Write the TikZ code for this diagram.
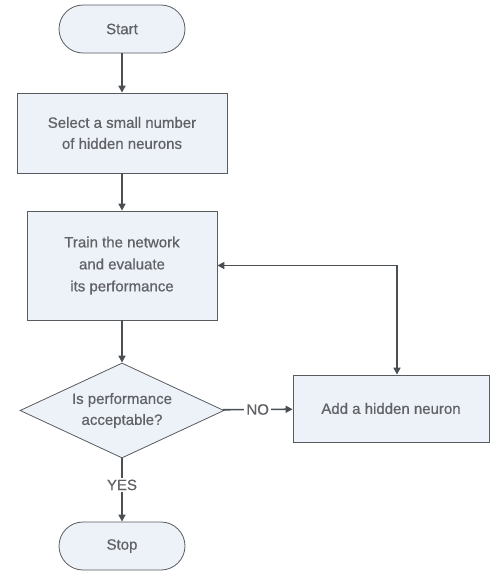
\documentclass[tikz,border=0pt]{standalone}
\usepackage{fontspec}
\setmainfont{Liberation Sans}[FakeBold=0.6]
\usetikzlibrary{shapes.geometric,arrows.meta}
\definecolor{boxfill}{RGB}{237,241,248}
\definecolor{boxline}{RGB}{88,92,96}
\definecolor{linkline}{RGB}{74,79,84}
\definecolor{labeltext}{RGB}{96,98,102}
\tikzset{>={Triangle[length=7pt,width=7pt]}}
\tikzset{%
    terminal/.style={draw=boxline,fill=boxfill,line width=0.8pt,rounded corners=24pt,
        minimum width=126pt,minimum height=48pt,text=labeltext},
    process/.style={draw=boxline,fill=boxfill,line width=0.8pt,align=center,text=labeltext},
    decision/.style={diamond,draw=boxline,fill=boxfill,line width=0.8pt,aspect=2.15,
        inner sep=0pt,minimum width=204pt,minimum height=95pt,align=center,text=labeltext},
    link/.style={->,draw=linkline,line width=1.6pt},
    answer/.style={fill=white,text=labeltext,inner sep=2pt}
}

\begin{document}
\begin{tikzpicture}[x=1pt,y=1pt,font=\fontsize{15}{21}\selectfont]
\useasboundingbox (0,0) rectangle (497,-581);

\node[terminal] (start) at (122,-29) {Start};
\node[process,minimum width=210pt,minimum height=80pt] (select) at (122,-133) {Select a small number\\of hidden neurons};
\node[process,minimum width=190pt,minimum height=109pt,font=\fontsize{15}{22}\selectfont] (train) at (122,-265.5) {Train the network\\and evaluate\\its performance};
\node[decision] (check) at (122,-410.5) {Is performance\\acceptable?};
\node[process,minimum width=196pt,minimum height=67pt] (add) at (391,-408.5) {Add a hidden neuron};
\node[terminal] (stop) at (122,-546) {Stop};

\draw[link] (start) -- (select);
\draw[link] (select) -- (train);
\draw[link] (train) -- (check);
\draw[link] (check) -- node[answer,pos=0.42] {YES} (stop);
\draw[link] (check) -- node[answer] {NO} (add);
\draw[link,<->] ([xshift=6pt]add.north) |- (train.east);
\end{tikzpicture}
\end{document}
